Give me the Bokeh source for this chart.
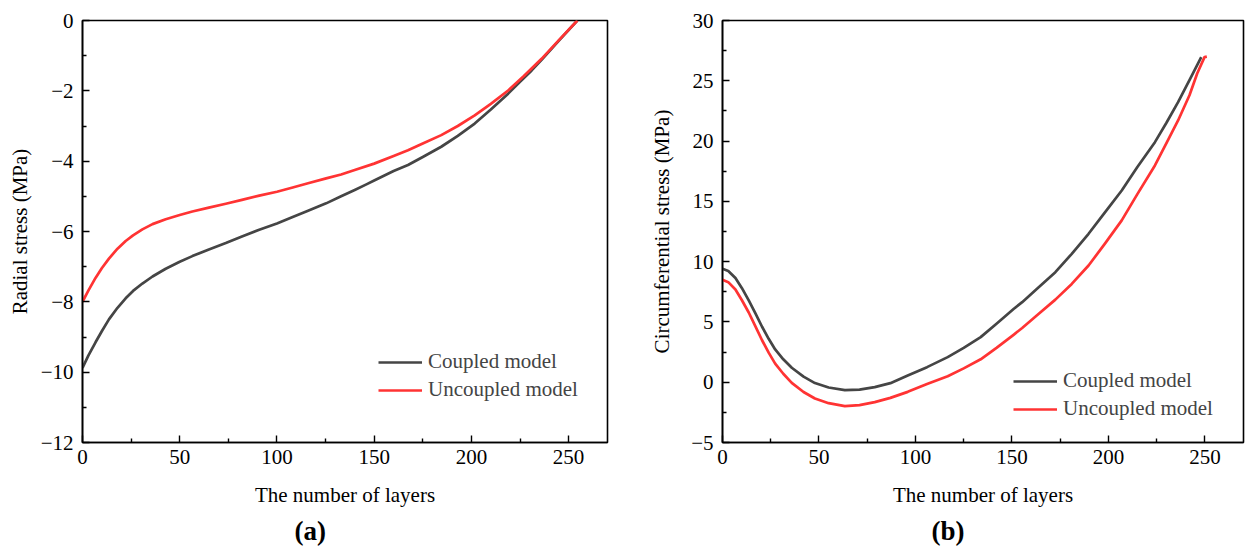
from bokeh.plotting import figure
from bokeh.models import (FixedTicker, Legend, LegendItem, Title, Range1d,
                          CustomJSTickFormatter)
from bokeh.layouts import row
from bokeh.embed import file_html
from bokeh.resources import INLINE

FONT = "Liberation Serif"

# ---------------- data: panel (a) radial stress ----------------
layers_a_coupled = [0, 3, 6.7, 10, 13.6, 18, 22.2, 26, 30.8, 36, 42.8, 50, 56.5, 65, 73.7, 82,
                    90.9, 100, 108.1, 116, 125.3, 133, 140, 146, 150, 160, 167.4, 175, 184.5,
                    193, 201.7, 210, 218.9, 225, 231, 236.1, 245, 254.5]
radial_coupled = [-9.88, -9.53, -9.15, -8.83, -8.50, -8.17, -7.90, -7.69, -7.48, -7.28, -7.06,
                  -6.86, -6.70, -6.51, -6.33, -6.14, -5.95, -5.77, -5.59, -5.41, -5.20, -5.00,
                  -4.82, -4.66, -4.55, -4.28, -4.11, -3.88, -3.59, -3.28, -2.93, -2.53, -2.08,
                  -1.74, -1.42, -1.12, -0.57, 0.0]
layers_a_uncoupled = [0, 3, 6.7, 10, 13.6, 18, 22.2, 26, 30.8, 36, 42.8, 50, 56.5, 65, 73.7, 82,
                      90.9, 100, 108.1, 116, 125.3, 133, 140, 150, 160, 167.4, 175, 184.5, 193,
                      201.7, 210, 218.9, 227, 236.1, 245, 254.5]
radial_uncoupled = [-8.0, -7.68, -7.32, -7.04, -6.77, -6.49, -6.27, -6.11, -5.94, -5.79, -5.65,
                    -5.53, -5.43, -5.32, -5.21, -5.10, -4.98, -4.87, -4.75, -4.63, -4.49, -4.38,
                    -4.25, -4.07, -3.85, -3.69, -3.50, -3.26, -3.00, -2.70, -2.37, -1.99, -1.58,
                    -1.09, -0.56, 0.0]

# ---------------- data: panel (b) circumferential stress ----------------
layers_b_coupled = [0, 3, 6.7, 10, 13.6, 17, 20.5, 24, 27.3, 31.5, 35.9, 42, 47.9, 55, 63.4, 71,
                    78.9, 87, 96, 106, 116.7, 125, 133.8, 142, 151, 155.3, 163, 172.5, 181,
                    189.7, 198, 206.9, 215, 224.1, 230, 236.1, 242, 248.1]
circ_coupled = [9.41, 9.23, 8.64, 7.82, 6.78, 5.73, 4.60, 3.58, 2.72, 1.90, 1.20, 0.46, -0.07,
                -0.44, -0.66, -0.62, -0.41, -0.08, 0.56, 1.25, 2.08, 2.85, 3.74, 4.85, 6.09,
                6.64, 7.75, 9.13, 10.65, 12.31, 14.05, 15.90, 17.85, 19.91, 21.5, 23.23,
                25.05, 26.96]
layers_b_uncoupled = [0, 3, 6.7, 10, 13.6, 17, 20.5, 24, 27.3, 31.5, 35.9, 42, 47.9, 55, 63.4,
                      71, 78.9, 87, 96, 106, 116.7, 125, 133.8, 142, 151, 155.3, 163, 172.5,
                      181, 189.7, 198, 206.9, 215, 224.1, 230, 236.1, 242, 246, 249.8, 251]
circ_uncoupled = [8.50, 8.30, 7.69, 6.82, 5.78, 4.65, 3.48, 2.43, 1.54, 0.70, -0.05, -0.81,
                  -1.35, -1.74, -1.98, -1.90, -1.65, -1.30, -0.80, -0.15, 0.50, 1.15, 1.90,
                  2.85, 3.95, 4.50, 5.55, 6.85, 8.15, 9.68, 11.45, 13.42, 15.6, 17.98, 19.8,
                  21.71, 23.8, 25.6, 26.96, 27.0]

x_ticks = [0, 50, 100, 150, 200, 250]
x_minor = [25, 75, 125, 175, 225]
ya_ticks = [-12, -10, -8, -6, -4, -2, 0]
ya_minor = [-11, -9, -7, -5, -3, -1]
yb_ticks = [-5, 0, 5, 10, 15, 20, 25, 30]
yb_minor = [-2.5, 2.5, 7.5, 12.5, 17.5, 22.5, 27.5]

series_names = ["Coupled model", "Uncoupled model"]
colors = ["#454545", "#ff3333"]
x_title = "The number of layers"
ya_title = "Radial stress (MPa)"
yb_title = "Circumferential stress (MPa)"
captions = ["(a)", "(b)"]

minus_fmt = CustomJSTickFormatter(code="""
    return tick < 0 ? "\\u2212" + Math.abs(tick) : String(tick);
""")


def make_fig(width, bl, br, bt, bb, yr, yt, ym, ytitle, xs, ys, leg_loc, cap_off, caption,
             ylabel_standoff):
    p = figure(width=width, height=553, output_backend="svg", toolbar_location=None,
               x_range=Range1d(0, 270), y_range=Range1d(*yr),
               min_border_left=bl, min_border_right=br, min_border_top=bt,
               min_border_bottom=bb)
    p.xgrid.visible = False
    p.ygrid.visible = False
    p.outline_line_color = "black"
    p.outline_line_width = 1.6
    p.outline_line_alpha = 1
    p.xaxis.ticker = FixedTicker(ticks=x_ticks, minor_ticks=x_minor)
    p.yaxis.ticker = FixedTicker(ticks=yt, minor_ticks=ym)
    p.yaxis.formatter = minus_fmt
    for ax in (p.xaxis[0], p.yaxis[0]):
        ax.axis_line_color = "black"
        ax.axis_line_width = 1.6
        ax.major_tick_in = 7
        ax.major_tick_out = 0
        ax.minor_tick_in = 4
        ax.minor_tick_out = 0
        ax.major_tick_line_width = 1.4
        ax.minor_tick_line_width = 1.4
        ax.major_tick_line_color = "black"
        ax.minor_tick_line_color = "black"
        ax.major_label_text_font = FONT
        ax.major_label_text_font_size = "21px"
        ax.major_label_text_color = "black"
        ax.axis_label_text_font = FONT
        ax.axis_label_text_font_size = "21px"
        ax.axis_label_text_font_style = "normal"
        ax.axis_label_text_color = "black"
    p.xaxis.axis_label = x_title
    p.yaxis.axis_label = ytitle
    p.xaxis.major_label_standoff = 7
    p.xaxis.axis_label_standoff = 16
    p.yaxis.major_label_standoff = 9
    p.yaxis.axis_label_standoff = ylabel_standoff

    items = []
    for x, y, name, c in zip(xs, ys, series_names, colors):
        r = p.line(x, y, line_color=c, line_width=2.7, line_join="round")
        items.append(LegendItem(label=name, renderers=[r]))
    leg = Legend(items=items, location=leg_loc, label_text_font=FONT,
                 label_text_font_size="21px", glyph_width=44, glyph_height=24,
                 label_height=24, label_standoff=6, spacing=3, padding=0, margin=0,
                 border_line_alpha=0, background_fill_alpha=0)
    p.add_layout(leg)

    cap = Title(text=caption, align="left", offset=cap_off, text_font=FONT,
                text_font_size="27px", text_font_style="bold", text_color="black",
                standoff=9)
    p.add_layout(cap, "below")
    return p


pa = make_fig(630, 82, 23, 18, 111, (-12, 0), ya_ticks, ya_minor, ya_title,
              [layers_a_coupled, layers_a_uncoupled], [radial_coupled, radial_uncoupled],
              (296, 40), 212, captions[0], 6)
pb = make_fig(616, 92, 3, 20, 111, (-5, 30), yb_ticks, yb_minor, yb_title,
              [layers_b_coupled, layers_b_uncoupled], [circ_coupled, circ_uncoupled],
              (291, 21), 209, captions[1], 14)

layout = row(pa, pb)
open("out.html", "w").write(file_html(layout, INLINE))
